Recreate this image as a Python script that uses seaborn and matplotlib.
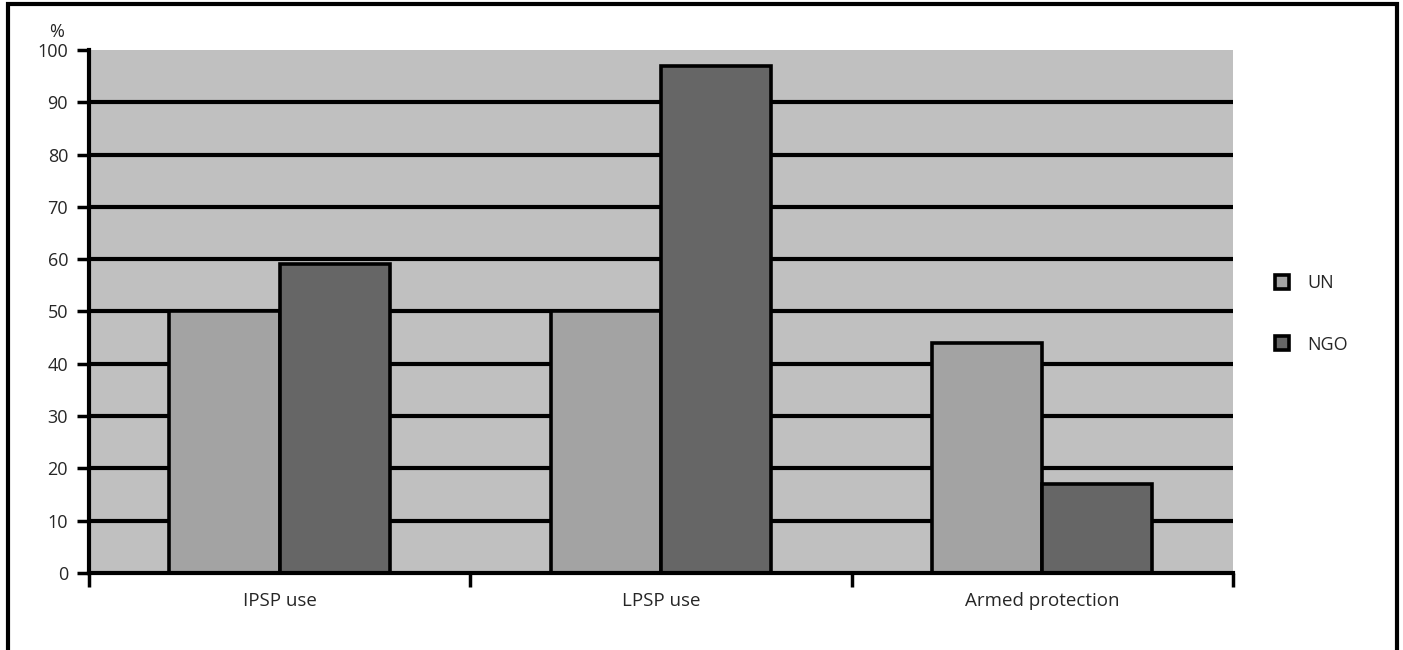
import matplotlib
matplotlib.use("Agg")
import matplotlib.pyplot as plt
from matplotlib.patches import Rectangle
import pandas as pd
import seaborn as sns

categories = ["IPSP use", "LPSP use", "Armed protection"]
groups = ["UN", "NGO"]
un_values = [50, 50, 44]
ngo_values = [59, 97, 17]
y_ticks = list(range(0, 101, 10))

df = pd.DataFrame({
    "category": categories * 2,
    "group": ["UN"] * 3 + ["NGO"] * 3,
    "value": un_values + ngo_values,
})

sns.set_style("white")
plt.rcParams["font.family"] = ["Open Sans", "DejaVu Sans"]

fig = plt.figure(figsize=(14.03, 6.5), dpi=100)
ax = fig.add_axes([0.0634, 0.1185, 0.8154, 0.8046])

sns.barplot(data=df, x="category", y="value", hue="group", hue_order=groups,
            order=categories, palette=["#a3a3a3", "#666666"], width=0.578,
            gap=0, edgecolor="black", linewidth=2.6, saturation=1, ax=ax,
            errorbar=None, zorder=3)

ax.set_facecolor("#c0c0c0")
ax.set_xlim(-0.5, 2.5)
ax.set_ylim(0, 100)
ax.set_yticks(y_ticks)
ax.set_yticklabels([str(t) for t in y_ticks], fontsize=13)
for t in y_ticks[1:-1]:
    ax.axhline(t, color="black", linewidth=3, zorder=1)

ax.set_xticks(range(len(categories)))
ax.set_xticklabels(categories, fontsize=13.5)
ax.set_xticks([-0.5, 0.5, 1.5, 2.5], minor=True)
ax.tick_params(axis="x", which="major", bottom=True, length=0, pad=14)
ax.tick_params(axis="x", which="minor", bottom=True, length=10, width=2.5,
               direction="out", color="black")
ax.tick_params(axis="y", left=True, length=9, width=2.5, direction="out",
               color="black", pad=6)
ax.set_xlabel("")
ax.set_ylabel("")

for side in ["top", "right"]:
    ax.spines[side].set_visible(False)
for side in ["left", "bottom"]:
    ax.spines[side].set_color("black")
    ax.spines[side].set_linewidth(3)
    ax.spines[side].set_zorder(4)

ax.text(-0.022, 1.035, "%", transform=ax.transAxes, ha="right", va="center", fontsize=13)

handles, labels = ax.get_legend_handles_labels()
ax.legend(handles, labels, loc="center left", bbox_to_anchor=(0.897, 0.517),
          bbox_transform=fig.transFigure, frameon=False, fontsize=13,
          handlelength=0.8, handleheight=0.8, labelspacing=2.4, handletextpad=1.0)

fig.patches.append(Rectangle((0.006, -0.05), 0.9895, 1.044, transform=fig.transFigure,
                             fill=False, edgecolor="black", linewidth=3))

plt.savefig("out.png", dpi=100)
plt.close()
